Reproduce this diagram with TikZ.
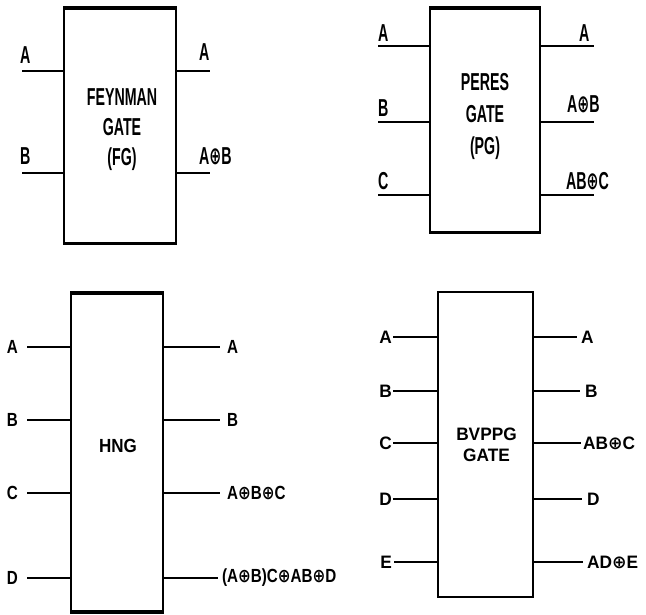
\documentclass[tikz,border=0pt]{standalone}
\usepackage{fontspec}
\setmainfont{Liberation Sans}
\newfontfamily\xorfont{DejaVu Sans}
\newcommand{\xr}{{\xorfont\bfseries ⊕}}
\usepackage{tikz}
\tikzset{lbl/.style={draw=none, fill=none, inner sep=0pt, text=black}}

\begin{document}
\begin{tikzpicture}[x=1pt, y=-1pt,
  gate/.style={draw, line width=2pt, fill=white, inner sep=0pt},
  wire/.style={line width=2pt},
  edge/.style={line width=3pt},
  toplbl/.style={lbl, font=\fontsize{24.5}{30}\selectfont\bfseries, xscale=0.58},
  hnglbl/.style={lbl, font=\fontsize{19}{22}\selectfont\bfseries, xscale=0.8},
  bvlbl/.style={lbl, font=\fontsize{18}{21}\selectfont\bfseries, xscale=0.96}]
  \useasboundingbox (0,0) rectangle (646,615);
  % Feynman gate
  \node[gate, minimum width=112pt, minimum height=234pt] (fg) at (120,126) {};
  \draw[edge] (fg.north west) -- (fg.north east);
  \draw[edge] (fg.south west) -- (fg.south east);
  \node[toplbl, align=center] (fgname) at (122,130) {FEYNMAN\\GATE\\(FG)};
  \coordinate (fgA) at (22,71);
  \coordinate (fgB) at (22,173);
  \coordinate (fgP) at (210,71);
  \coordinate (fgQ) at (210,173);
  \draw[wire] (fgA) -- (fgA -| fg.west);
  \draw[wire] (fgB) -- (fgB -| fg.west);
  \draw[wire] (fg.east |- fgP) -- (fgP);
  \draw[wire] (fg.east |- fgQ) -- (fgQ);
  \node[toplbl, anchor=base west] (fgAin) at (20,64) {A};
  \node[toplbl, anchor=base west] (fgBin) at (20,165) {B};
  \node[toplbl, anchor=base west] (fgPout) at (199,61) {A};
  \node[toplbl, anchor=base west] (fgQout) at (199,165) {A\xr B};
  % Peres gate
  \node[gate, minimum width=110pt, minimum height=223pt] (pg) at (485,120.5) {};
  \draw[edge] (pg.north west) -- (pg.north east);
  \draw[edge] (pg.south west) -- (pg.south east);
  \node[toplbl, align=center, font=\fontsize{24.5}{32}\selectfont\bfseries]
    (pgname) at (485,116) {PERES\\GATE\\(PG)};
  \coordinate (pgA) at (378,46);
  \coordinate (pgB) at (378,122);
  \coordinate (pgC) at (378,195);
  \coordinate (pgP) at (594,46);
  \coordinate (pgQ) at (594,122);
  \coordinate (pgR) at (594,195);
  \draw[wire] (pgA) -- (pgA -| pg.west);
  \draw[wire] (pgB) -- (pgB -| pg.west);
  \draw[wire] (pgC) -- (pgC -| pg.west);
  \draw[wire] (pg.east |- pgP) -- (pgP);
  \draw[wire] (pg.east |- pgQ) -- (pgQ);
  \draw[wire] (pg.east |- pgR) -- (pgR);
  \node[toplbl, anchor=base west] (pgAin) at (378,42) {A};
  \node[toplbl, anchor=base west] (pgBin) at (378,117) {B};
  \node[toplbl, anchor=base west] (pgCin) at (378,190) {C};
  \node[toplbl, anchor=base west] (pgPout) at (579,42) {A};
  \node[toplbl, anchor=base west] (pgQout) at (567,113) {A\xr B};
  \node[toplbl, anchor=base west] (pgRout) at (566,190) {AB\xr C};
  % HNG
  \node[gate, minimum width=92pt, minimum height=317pt] (hng) at (117,452.5) {};
  \draw[line width=4pt] (hng.north west) -- (hng.north east);
  \draw[edge] (hng.south west) -- (hng.south east);
  \node[hnglbl, xscale=1.12] (hngname) at (118,446) {HNG};
  \coordinate (hngA) at (27,347);
  \coordinate (hngB) at (27,420);
  \coordinate (hngC) at (27,493);
  \coordinate (hngD) at (27,578);
  \coordinate (hngP) at (220,347);
  \coordinate (hngQ) at (220,420);
  \coordinate (hngR) at (220,493);
  \coordinate (hngS) at (218,578);
  \draw[wire] (hngA) -- (hngA -| hng.west);
  \draw[wire] (hngB) -- (hngB -| hng.west);
  \draw[wire] (hngC) -- (hngC -| hng.west);
  \draw[wire] (hngD) -- (hngD -| hng.west);
  \draw[wire] (hng.east |- hngP) -- (hngP);
  \draw[wire] (hng.east |- hngQ) -- (hngQ);
  \draw[wire] (hng.east |- hngR) -- (hngR);
  \draw[wire] (hng.east |- hngS) -- (hngS);
  \node[hnglbl, anchor=east] (hngAin) at (18,347) {A};
  \node[hnglbl, anchor=east] (hngBin) at (18,420) {B};
  \node[hnglbl, anchor=east] (hngCin) at (18,493) {C};
  \node[hnglbl, anchor=east] (hngDin) at (18,578) {D};
  \node[hnglbl, anchor=west] (hngPout) at (227,347) {A};
  \node[hnglbl, anchor=west] (hngQout) at (227,420) {B};
  \node[hnglbl, anchor=west] (hngRout) at (227,493) {A\xr B\xr C};
  \node[hnglbl, anchor=west] (hngSout) at (222,578) {(A\xr B)C\xr AB\xr D};
  % BVPPG gate
  \node[gate, minimum width=95pt, minimum height=305pt] (bv) at (485.5,444.5) {};
  \node[bvlbl, align=center] (bvname) at (486.5,444.5) {BVPPG\\GATE};
  \coordinate (bvA) at (393,337);
  \coordinate (bvB) at (393,391);
  \coordinate (bvC) at (393,443);
  \coordinate (bvD) at (393,499);
  \coordinate (bvE) at (394,562);
  \coordinate (bvP) at (577,337);
  \coordinate (bvQ) at (580,391);
  \coordinate (bvR) at (581,443);
  \coordinate (bvS) at (582,499);
  \coordinate (bvT) at (583,562);
  \draw[wire] (bvA) -- (bvA -| bv.west);
  \draw[wire] (bvB) -- (bvB -| bv.west);
  \draw[wire] (bvC) -- (bvC -| bv.west);
  \draw[wire] (bvD) -- (bvD -| bv.west);
  \draw[wire] (bvE) -- (bvE -| bv.west);
  \draw[wire] (bv.east |- bvP) -- (bvP);
  \draw[wire] (bv.east |- bvQ) -- (bvQ);
  \draw[wire] (bv.east |- bvR) -- (bvR);
  \draw[wire] (bv.east |- bvS) -- (bvS);
  \draw[wire] (bv.east |- bvT) -- (bvT);
  \node[bvlbl, anchor=east] (bvAin) at (392,337) {A};
  \node[bvlbl, anchor=east] (bvBin) at (392,391) {B};
  \node[bvlbl, anchor=east] (bvCin) at (392,443) {C};
  \node[bvlbl, anchor=east] (bvDin) at (392,499) {D};
  \node[bvlbl, anchor=east] (bvEin) at (392,562) {E};
  \node[bvlbl, anchor=west] (bvPout) at (581,337) {A};
  \node[bvlbl, anchor=west] (bvQout) at (585,391) {B};
  \node[bvlbl, anchor=west] (bvRout) at (583,443) {AB\xr C};
  \node[bvlbl, anchor=west] (bvSout) at (587,499) {D};
  \node[bvlbl, anchor=west] (bvTout) at (587,562) {AD\xr E};
\end{tikzpicture}
\end{document}
